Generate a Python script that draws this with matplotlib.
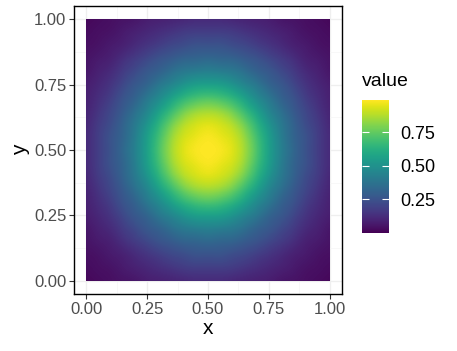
import numpy as np
import matplotlib
matplotlib.use("Agg")
import matplotlib.pyplot as plt
from matplotlib.patches import Rectangle

plt.rcParams['font.family'] = ['Liberation Sans', 'DejaVu Sans']

# grid coordinates (cell centres)
x_vals = [0.00, 0.05, 0.10, 0.15, 0.20, 0.25, 0.30, 0.35, 0.40, 0.45, 0.50,
          0.55, 0.60, 0.65, 0.70, 0.75, 0.80, 0.85, 0.90, 0.95, 1.00]
y_vals = [0.00, 0.05, 0.10, 0.15, 0.20, 0.25, 0.30, 0.35, 0.40, 0.45, 0.50,
          0.55, 0.60, 0.65, 0.70, 0.75, 0.80, 0.85, 0.90, 0.95, 1.00]

# estimated values, rows = y (bottom to top), columns = x (left to right)
value = [
    [0.02,0.03,0.04,0.05,0.06,0.08,0.09,0.10,0.11,0.12,0.12,0.12,0.11,0.10,0.09,0.08,0.06,0.05,0.04,0.03,0.02],
    [0.03,0.04,0.05,0.07,0.09,0.11,0.13,0.15,0.17,0.18,0.18,0.18,0.17,0.15,0.13,0.11,0.09,0.07,0.05,0.04,0.03],
    [0.04,0.05,0.07,0.09,0.12,0.15,0.18,0.21,0.23,0.25,0.25,0.25,0.23,0.21,0.18,0.15,0.12,0.09,0.07,0.05,0.04],
    [0.05,0.07,0.09,0.13,0.17,0.21,0.25,0.28,0.31,0.32,0.33,0.32,0.31,0.28,0.25,0.21,0.17,0.13,0.09,0.07,0.05],
    [0.06,0.09,0.12,0.17,0.22,0.27,0.31,0.36,0.40,0.42,0.43,0.42,0.40,0.36,0.31,0.27,0.22,0.17,0.12,0.09,0.06],
    [0.08,0.11,0.15,0.21,0.27,0.32,0.39,0.45,0.51,0.55,0.56,0.55,0.51,0.45,0.39,0.32,0.27,0.21,0.15,0.11,0.08],
    [0.09,0.13,0.18,0.25,0.31,0.39,0.47,0.56,0.64,0.69,0.71,0.69,0.64,0.56,0.47,0.39,0.31,0.25,0.18,0.13,0.09],
    [0.10,0.15,0.21,0.28,0.36,0.45,0.56,0.67,0.77,0.83,0.85,0.83,0.77,0.67,0.56,0.45,0.36,0.28,0.21,0.15,0.10],
    [0.11,0.17,0.23,0.31,0.40,0.51,0.64,0.77,0.87,0.92,0.94,0.92,0.87,0.77,0.64,0.51,0.40,0.31,0.23,0.17,0.11],
    [0.12,0.18,0.25,0.32,0.42,0.55,0.69,0.83,0.92,0.96,0.98,0.96,0.92,0.83,0.69,0.55,0.42,0.32,0.25,0.18,0.12],
    [0.12,0.18,0.25,0.33,0.43,0.56,0.71,0.85,0.94,0.98,0.99,0.98,0.94,0.85,0.71,0.56,0.43,0.33,0.25,0.18,0.12],
    [0.12,0.18,0.25,0.32,0.42,0.55,0.69,0.83,0.92,0.96,0.98,0.96,0.92,0.83,0.69,0.55,0.42,0.32,0.25,0.18,0.12],
    [0.11,0.17,0.23,0.31,0.40,0.51,0.64,0.77,0.87,0.92,0.94,0.92,0.87,0.77,0.64,0.51,0.40,0.31,0.23,0.17,0.11],
    [0.10,0.15,0.21,0.28,0.36,0.45,0.56,0.67,0.77,0.83,0.85,0.83,0.77,0.67,0.56,0.45,0.36,0.28,0.21,0.15,0.10],
    [0.09,0.13,0.18,0.25,0.31,0.39,0.47,0.56,0.64,0.69,0.71,0.69,0.64,0.56,0.47,0.39,0.31,0.25,0.18,0.13,0.09],
    [0.08,0.11,0.15,0.21,0.27,0.32,0.39,0.45,0.51,0.55,0.56,0.55,0.51,0.45,0.39,0.32,0.27,0.21,0.15,0.11,0.08],
    [0.06,0.09,0.12,0.17,0.22,0.27,0.31,0.36,0.40,0.42,0.43,0.42,0.40,0.36,0.31,0.27,0.22,0.17,0.12,0.09,0.06],
    [0.05,0.07,0.09,0.13,0.17,0.21,0.25,0.28,0.31,0.32,0.33,0.32,0.31,0.28,0.25,0.21,0.17,0.13,0.09,0.07,0.05],
    [0.04,0.05,0.07,0.09,0.12,0.15,0.18,0.21,0.23,0.25,0.25,0.25,0.23,0.21,0.18,0.15,0.12,0.09,0.07,0.05,0.04],
    [0.03,0.04,0.05,0.07,0.09,0.11,0.13,0.15,0.17,0.18,0.18,0.18,0.17,0.15,0.13,0.11,0.09,0.07,0.05,0.04,0.03],
    [0.02,0.03,0.04,0.05,0.06,0.08,0.09,0.10,0.11,0.12,0.12,0.12,0.11,0.10,0.09,0.08,0.06,0.05,0.04,0.03,0.02],
]

x_ticks = [0.00, 0.25, 0.50, 0.75, 1.00]
y_ticks = [0.00, 0.25, 0.50, 0.75, 1.00]
x_ticklabels = ["0.00", "0.25", "0.50", "0.75", "1.00"]
y_ticklabels = ["0.00", "0.25", "0.50", "0.75", "1.00"]
cbar_ticks = [0.25, 0.50, 0.75]
cbar_ticklabels = ["0.25", "0.50", "0.75"]

Z = np.array(value)
xv = np.array(x_vals)
yv = np.array(y_vals)
hx = (xv[1] - xv[0]) / 2
hy = (yv[1] - yv[0]) / 2

fig = plt.figure(figsize=(4.57, 3.51), dpi=100)
ax = fig.add_axes([74/457, 57/351, 268/457, 288/351])

vmin, vmax = 0.0, Z.max()
im = ax.imshow(Z, origin='lower',
               extent=(xv[0] - hx, xv[-1] + hx, yv[0] - hy, yv[-1] + hy),
               cmap='viridis', vmin=vmin, vmax=vmax, interpolation='lanczos',
               interpolation_stage='data', aspect='auto', zorder=2)
clip = Rectangle((xv[0], yv[0]), xv[-1] - xv[0], yv[-1] - yv[0], transform=ax.transData,
                 facecolor='none', edgecolor='none')
im.set_clip_path(clip)

ax.set_xlim(-0.05, 1.05)
ax.set_ylim(-0.05, 1.05)
ax.set_xticks(x_ticks)
ax.set_xticklabels(x_ticklabels)
ax.set_yticks(y_ticks)
ax.set_yticklabels(y_ticklabels)
ax.set_xticks([0.125, 0.375, 0.625, 0.875], minor=True)
ax.set_yticks([0.125, 0.375, 0.625, 0.875], minor=True)
ax.grid(True, which='major', color='#EFEFEF', linewidth=0.9, zorder=0)
ax.grid(True, which='minor', color='#F5F5F5', linewidth=0.5, zorder=0)
ax.set_axisbelow(True)
ax.tick_params(which='minor', length=0)
ax.tick_params(which='major', length=3.5, width=0.8, color='#333333',
               labelsize=12, labelcolor='#4D4D4D', pad=2)
for s in ax.spines.values():
    s.set_color('black')
    s.set_linewidth(1.0)
ax.set_xlabel('x', fontsize=15, labelpad=2)
ax.set_ylabel('y', fontsize=15, labelpad=3)

cax = fig.add_axes([362/457, 118/351, 27/457, 133/351])
cb = fig.colorbar(im, cax=cax)
cb.outline.set_visible(False)
cb.set_ticks(cbar_ticks)
cb.set_ticklabels(cbar_ticklabels)
cax.tick_params(which='both', direction='in', length=5, width=0.8, color='white',
                left=True, right=True, labelleft=False, labelright=True,
                labelsize=13, labelcolor='black', pad=8)
cax.minorticks_off()
fig.text(362/457, 1 - 81/351, 'value', fontsize=14, ha='left', va='center')

fig.savefig('out.png', dpi=100)
